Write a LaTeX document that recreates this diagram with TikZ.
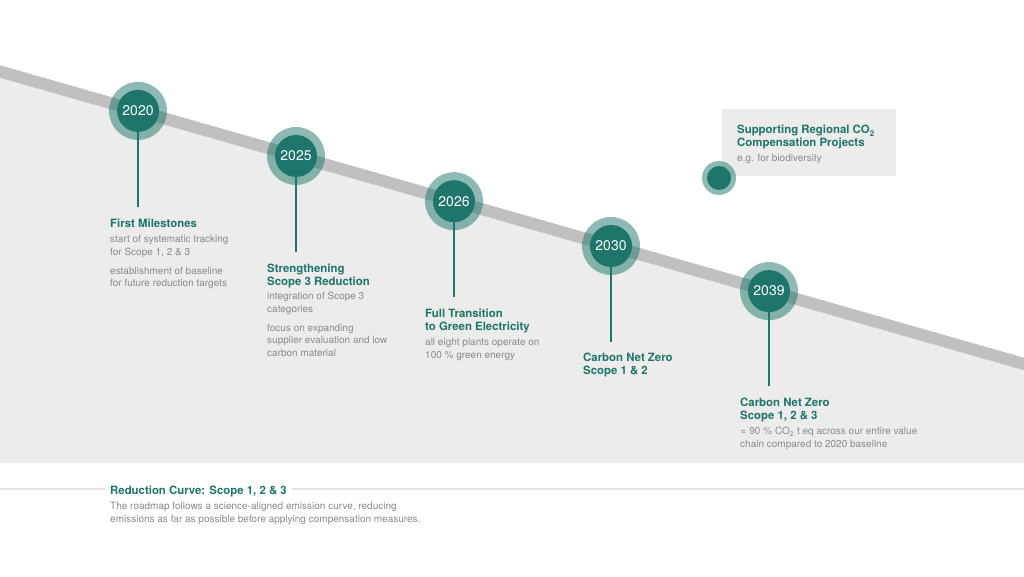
\documentclass[tikz,border=0pt]{standalone}
\usepackage{fontspec}
\setmainfont{TeX Gyre Heros}
\usetikzlibrary{positioning, calc}
\definecolor{pathteal}{RGB}{30,117,106}
\definecolor{bandgray}{RGB}{192,192,192}
\definecolor{areagray}{RGB}{236,236,236}
\definecolor{notegray}{RGB}{138,138,138}
\definecolor{rulegray}{RGB}{228,228,228}

\begin{document}
\begin{tikzpicture}[x=1pt, y=-1pt, every node/.style={inner sep=0pt},
    ring/.style={circle, fill=pathteal, fill opacity=0.5, minimum size=58pt},
    dot/.style={circle, fill=pathteal, minimum size=42pt, text=white, font=\fontsize{14}{16}\selectfont},
    stem/.style={pathteal, line width=2.5pt},
    headline/.style={text=pathteal, font=\fontsize{11.4}{13}\selectfont\bfseries, align=left},
    note/.style={text=notegray, font=\fontsize{10}{12.8}\selectfont, align=left}]
    \useasboundingbox (0,0) rectangle (1024,577);
    \fill[white] (0,0) rectangle (1024,577);
    % area under the curve
    \fill[areagray] (0,71.5) -- (1024,364) -- (1024,463) -- (0,463) -- cycle;
    \draw[bandgray, line width=12pt] (-20,65.8) -- (1044,369.7);

    % milestones (multi-line nodes sit on their last baseline)
    \node[ring] (r2020) at (138,110.9) {};
    \node[dot] (y2020) at (138,110.9) {2020};
    \coordinate (s2020) at (138,206.9);
    \draw[stem] (y2020) -- (s2020);
    \node[headline, anchor=base west] (t2020) at (110,227) {First Milestones};
    \node[note, anchor=base west] (b2020) at (110,286.9) {start of systematic tracking\\for Scope 1, 2 \& 3\\[6pt]establishment of baseline\\for future reduction targets};

    \node[ring] (r2025) at (296,156) {};
    \node[dot] (y2025) at (296,156) {2025};
    \coordinate (s2025) at (296,252);
    \draw[stem] (y2025) -- (s2025);
    \node[headline, anchor=base west] (t2025) at (267,285) {Strengthening\\Scope 3 Reduction};
    \node[note, anchor=base west] (b2025) at (267,356.7) {integration of Scope 3\\categories\\[6pt]focus on expanding\\supplier evaluation and low\\carbon material};

    \node[ring] (r2026) at (454,201.2) {};
    \node[dot] (y2026) at (454,201.2) {2026};
    \coordinate (s2026) at (454,297.2);
    \draw[stem] (y2026) -- (s2026);
    \node[headline, anchor=base west] (t2026) at (425,330) {Full Transition\\to Green Electricity};
    \node[note, anchor=base west] (b2026) at (425,358.3) {all eight plants operate on\\100 \% green energy};

    \node[ring] (r2030) at (611,246) {};
    \node[dot] (y2030) at (611,246) {2030};
    \coordinate (s2030) at (611,342);
    \draw[stem] (y2030) -- (s2030);
    \node[headline, anchor=base west] (t2030) at (583,374.5) {Carbon Net Zero\\Scope 1 \& 2};

    \node[ring] (r2039) at (769,291.1) {};
    \node[dot] (y2039) at (769,291.1) {2039};
    \coordinate (s2039) at (769,386);
    \draw[stem] (y2039) -- (s2039);
    \node[headline, anchor=base west] (t2039) at (740,419) {Carbon Net Zero\\Scope 1, 2 \& 3};
    \node[note, anchor=base west] (b2039) at (740,447.3) {≈ 90 \% CO\textsubscript{2} t eq across our entire value\\chain compared to 2020 baseline};

    % compensation box
    \fill[areagray] (722,109) rectangle (896,176);
    \node[headline, anchor=base west] (tcomp) at (737,147) {Supporting Regional CO\textsubscript{2}\\Compensation Projects};
    \node[note, anchor=base west] (bcomp) at (737,161.5) {e.g. for biodiversity};
    \node[ring, minimum size=34pt] (rcomp) at (719,178) {};
    \node[dot, minimum size=24pt] (ycomp) at (719,178) {};

    % legend
    \node[headline, anchor=base west] (curve) at (110,494) {Reduction Curve: Scope 1, 2 \& 3};
    \node[note, anchor=base west] (bcurve) at (110,522.4) {The roadmap follows a science-aligned emission curve, reducing\\emissions as far as possible before applying compensation measures.};
    \coordinate (ruleL) at (0,489);
    \coordinate (ruleR) at (1024,489);
    \draw[rulegray, line width=1.5pt, shorten >=5pt] (ruleL) -- (ruleL -| curve.west);
    \draw[rulegray, line width=1.5pt, shorten <=5pt] (ruleR -| curve.east) -- (ruleR);
\end{tikzpicture}
\end{document}
